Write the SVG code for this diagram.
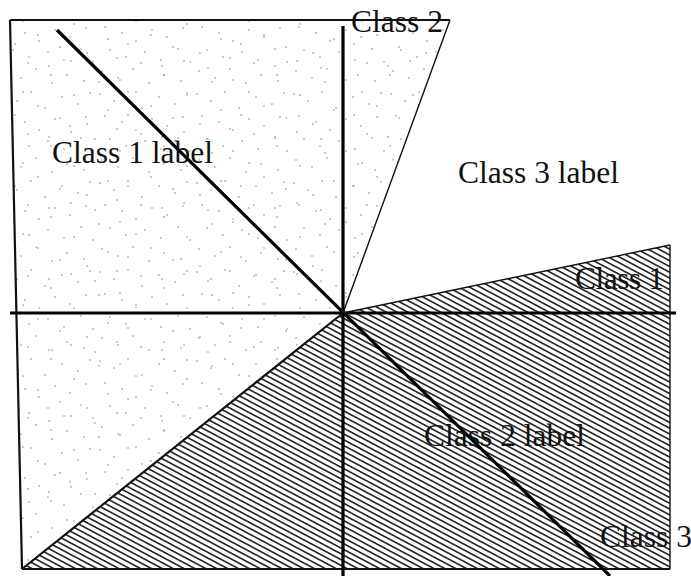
<svg xmlns="http://www.w3.org/2000/svg" width="691" height="576" viewBox="0 0 691 576">
<style>
.lbl{font-family:"Liberation Serif","Times New Roman",serif;font-size:31.5px;fill:#111}
.thick{stroke:#000;stroke-width:3.2;fill:none}
.thin{stroke:#111;stroke-width:1.4;fill:none}
.med{stroke:#111;stroke-width:2.2;fill:none}
.dot{fill:#8a8a8a}
</style>
<defs>
<pattern id="hatch" patternUnits="userSpaceOnUse" width="10" height="5.1" patternTransform="rotate(28)">
<line x1="-1" y1="2.5" x2="11" y2="2.5" stroke="#111" stroke-width="1.5"/>
</pattern>
<pattern id="stipple" patternUnits="userSpaceOnUse" width="97" height="89">
<g class="dot">
<circle cx="3" cy="5" r="0.8"/><circle cx="17" cy="12" r="0.8"/><circle cx="31" cy="3" r="0.8"/>
<circle cx="45" cy="19" r="0.8"/><circle cx="62" cy="8" r="0.8"/><circle cx="78" cy="15" r="0.8"/>
<circle cx="90" cy="4" r="0.8"/><circle cx="8" cy="27" r="0.8"/><circle cx="25" cy="33" r="0.8"/>
<circle cx="39" cy="41" r="0.8"/><circle cx="55" cy="30" r="0.8"/><circle cx="70" cy="37" r="0.8"/>
<circle cx="86" cy="28" r="0.8"/><circle cx="13" cy="50" r="0.8"/><circle cx="29" cy="57" r="0.8"/>
<circle cx="48" cy="52" r="0.8"/><circle cx="64" cy="60" r="0.8"/><circle cx="81" cy="49" r="0.8"/>
<circle cx="93" cy="62" r="0.8"/><circle cx="5" cy="71" r="0.8"/><circle cx="21" cy="78" r="0.8"/>
<circle cx="36" cy="69" r="0.8"/><circle cx="52" cy="83" r="0.8"/><circle cx="67" cy="75" r="0.8"/>
<circle cx="84" cy="81" r="0.8"/>
</g>
</pattern>
<pattern id="stipple2" patternUnits="userSpaceOnUse" width="113" height="71">
<g class="dot">
<circle cx="7" cy="9" r="0.8"/><circle cx="23" cy="21" r="0.8"/><circle cx="51" cy="4" r="0.8"/>
<circle cx="74" cy="24" r="0.8"/><circle cx="99" cy="11" r="0.8"/><circle cx="108" cy="39" r="0.8"/>
<circle cx="15" cy="44" r="0.8"/><circle cx="38" cy="35" r="0.8"/><circle cx="60" cy="47" r="0.8"/>
<circle cx="87" cy="53" r="0.8"/><circle cx="28" cy="63" r="0.8"/><circle cx="49" cy="66" r="0.8"/>
<circle cx="71" cy="61" r="0.8"/><circle cx="95" cy="68" r="0.8"/><circle cx="4" cy="58" r="0.8"/>
</g>
</pattern>
</defs>
<rect width="691" height="576" fill="#fff"/>
<g id="regions">
<polygon id="class1-region" points="10,20 450,20 343,313 22,569" fill="url(#stipple)"/>
<polygon points="10,20 450,20 343,313 22,569" fill="url(#stipple2)"/>
<polygon id="class2-region" points="343,313 670,245 670,569 22,569" fill="url(#hatch)"/>
</g>
<g id="borders">
<line class="med" x1="10" y1="20" x2="450" y2="20"/>
<line class="med" x1="10" y1="20" x2="22" y2="569"/>
<line class="med" x1="22" y1="569" x2="670" y2="569"/>
<line class="thin" x1="670" y1="245" x2="670" y2="569"/>
</g>
<g id="connectors">
<line class="thick" x1="343" y1="26" x2="343" y2="576"/>
<line class="thick" x1="10" y1="313" x2="676" y2="313"/>
<line class="thick" x1="57" y1="30" x2="610" y2="576"/>
<line class="thin" x1="343" y1="313" x2="450" y2="20"/>
<line class="thin" x1="343" y1="313" x2="670" y2="245"/>
<line class="med" x1="343" y1="313" x2="22" y2="569"/>
</g>
<g id="labels">
<text class="lbl" x="52" y="163">Class 1 label</text>
<text class="lbl" x="458" y="183">Class 3 label</text>
<text class="lbl" x="424" y="446">Class 2 label</text>
<text class="lbl" x="351" y="32">Class 2</text>
<text class="lbl" x="575" y="289" textLength="89">Class 1</text>
<text class="lbl" x="600" y="547">Class 3</text>
</g>
</svg>
